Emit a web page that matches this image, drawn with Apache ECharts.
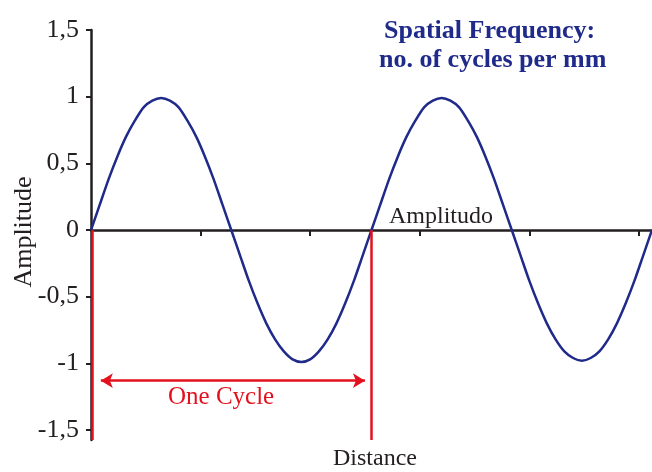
<!DOCTYPE html>
<html>
<head>
<meta charset="utf-8">
<script src="https://cdn.jsdelivr.net/npm/echarts@6/dist/echarts.min.js"></script>
<style>
  html, body { margin: 0; padding: 0; background: #fff; }
  #chart { width: 652px; height: 472px; }
</style>
</head>
<body>
<div id="chart"></div>
<script>
// distance along the x axis (one tick = 1 unit)
const distance = [
  0, 0.08, 0.16, 0.24, 0.32, 0.40, 0.48, 0.56, 0.64, 0.72, 0.80,
  0.88, 0.96, 1.04, 1.12, 1.20, 1.28, 1.36, 1.44, 1.52, 1.60, 1.68,
  1.76, 1.84, 1.92, 2.00, 2.08, 2.16, 2.24, 2.32, 2.40, 2.48, 2.56,
  2.64, 2.72, 2.80, 2.88, 2.96, 3.04, 3.12, 3.20, 3.28, 3.36, 3.44,
  3.52, 3.60, 3.68, 3.76, 3.84, 3.92, 4.00, 4.08, 4.16, 4.24, 4.32,
  4.40, 4.48, 4.56, 4.64, 4.72, 4.80, 4.88, 4.96, 5.04, 5.12
];
const amplitude = [
  0, 0.19, 0.38, 0.55, 0.70, 0.82, 0.92, 0.97, 0.99, 0.97, 0.92,
  0.82, 0.70, 0.55, 0.38, 0.19, 0, -0.19, -0.38, -0.55, -0.70, -0.82,
  -0.91, -0.97, -0.99, -0.97, -0.91, -0.82, -0.70, -0.55, -0.38, -0.19, 0,
  0.19, 0.38, 0.55, 0.70, 0.82, 0.92, 0.97, 0.99, 0.97, 0.92, 0.82,
  0.70, 0.55, 0.38, 0.19, 0, -0.19, -0.38, -0.55, -0.70, -0.82, -0.91,
  -0.96, -0.98, -0.96, -0.91, -0.82, -0.70, -0.55, -0.38, -0.19, 0
];
const yTicks = [-1.5, -1, -0.5, 0, 0.5, 1, 1.5];
const xTicks = [1, 2, 3, 4, 5];
const cycleStart = 0;
const cycleEnd = 2.56;
const axisBottom = -1.575;
const arrowY = -1.13;
const arrowFrom = 0.09;
const arrowTo = 2.5;

const ink = "#231f20";
const navy = "#1f2a8a";
const red = "#e3101d";
const serif = "Liberation Serif";

const chart = echarts.init(document.getElementById("chart"));

chart.setOption({
  animation: false,
  grid: { left: 91, right: 0, top: 30, bottom: 32, containLabel: false, outerBoundsMode: "none" },
  xAxis: {
    type: "value",
    min: 0,
    max: 5.12,
    axisLine: { onZero: true, lineStyle: { color: ink, width: 2.5 } },
    axisTick: { show: true, customValues: xTicks, length: 6, lineStyle: { color: ink, width: 2 } },
    axisLabel: { show: false },
    splitLine: { show: false }
  },
  yAxis: {
    type: "value",
    min: axisBottom,
    max: 1.5,
    axisLine: { show: true, lineStyle: { color: ink, width: 2.5 } },
    axisTick: { show: true, customValues: yTicks, length: 5, lineStyle: { color: ink, width: 2 } },
    axisLabel: {
      customValues: yTicks,
      margin: 12,
      fontFamily: serif,
      fontSize: 26,
      color: ink,
      formatter: v => String(v).replace(".", ",")
    },
    splitLine: { show: false }
  },
  series: [
    {
      name: "Amplitudo",
      type: "line",
      data: distance.map((d, i) => [d, amplitude[i]]),
      showSymbol: false,
      smooth: 0.25,
      lineStyle: { color: navy, width: 2.5, join: "round" },
      z: 3
    },
    {
      name: "cycle",
      type: "line",
      data: [],
      z: 4,
      markLine: {
        silent: true,
        symbol: "none",
        symbolSize: [11, 12],
        label: { show: false },
        lineStyle: { color: red, width: 2.5, type: "solid" },
        data: [
          [{ coord: [cycleStart + 0.01, 0] }, { coord: [cycleStart + 0.01, axisBottom] }],
          [{ coord: [cycleEnd, 0] }, { coord: [cycleEnd, axisBottom] }],
          [
            { coord: [arrowFrom, arrowY], symbol: "arrow" },
            { coord: [arrowTo, arrowY], symbol: "arrow" }
          ]
        ]
      }
    }
  ],
  graphic: [
    {
      type: "text", x: 24, y: 232, rotation: Math.PI / 2,
      style: {
        text: "Amplitude", font: "26px 'Liberation Serif'", fill: ink,
        textAlign: "center", textVerticalAlign: "middle"
      }
    },
    {
      type: "text", left: 494 - 110, top: 18,
      style: { text: "Spatial Frequency:", font: "bold 26px 'Liberation Serif'", fill: navy }
    },
    {
      type: "text", left: 494 - 115, top: 47,
      style: { text: "no. of cycles per mm", font: "bold 26px 'Liberation Serif'", fill: navy }
    },
    {
      type: "text", left: 389, top: 205,
      style: { text: "Amplitudo", font: "24px 'Liberation Serif'", fill: ink }
    },
    {
      type: "text", left: 333, top: 447,
      style: { text: "Distance", font: "24px 'Liberation Serif'", fill: ink }
    },
    {
      type: "text", left: 168, top: 385,
      style: { text: "One Cycle", font: "25px 'Liberation Serif'", fill: red }
    }
  ]
});
</script>
</body>
</html>
